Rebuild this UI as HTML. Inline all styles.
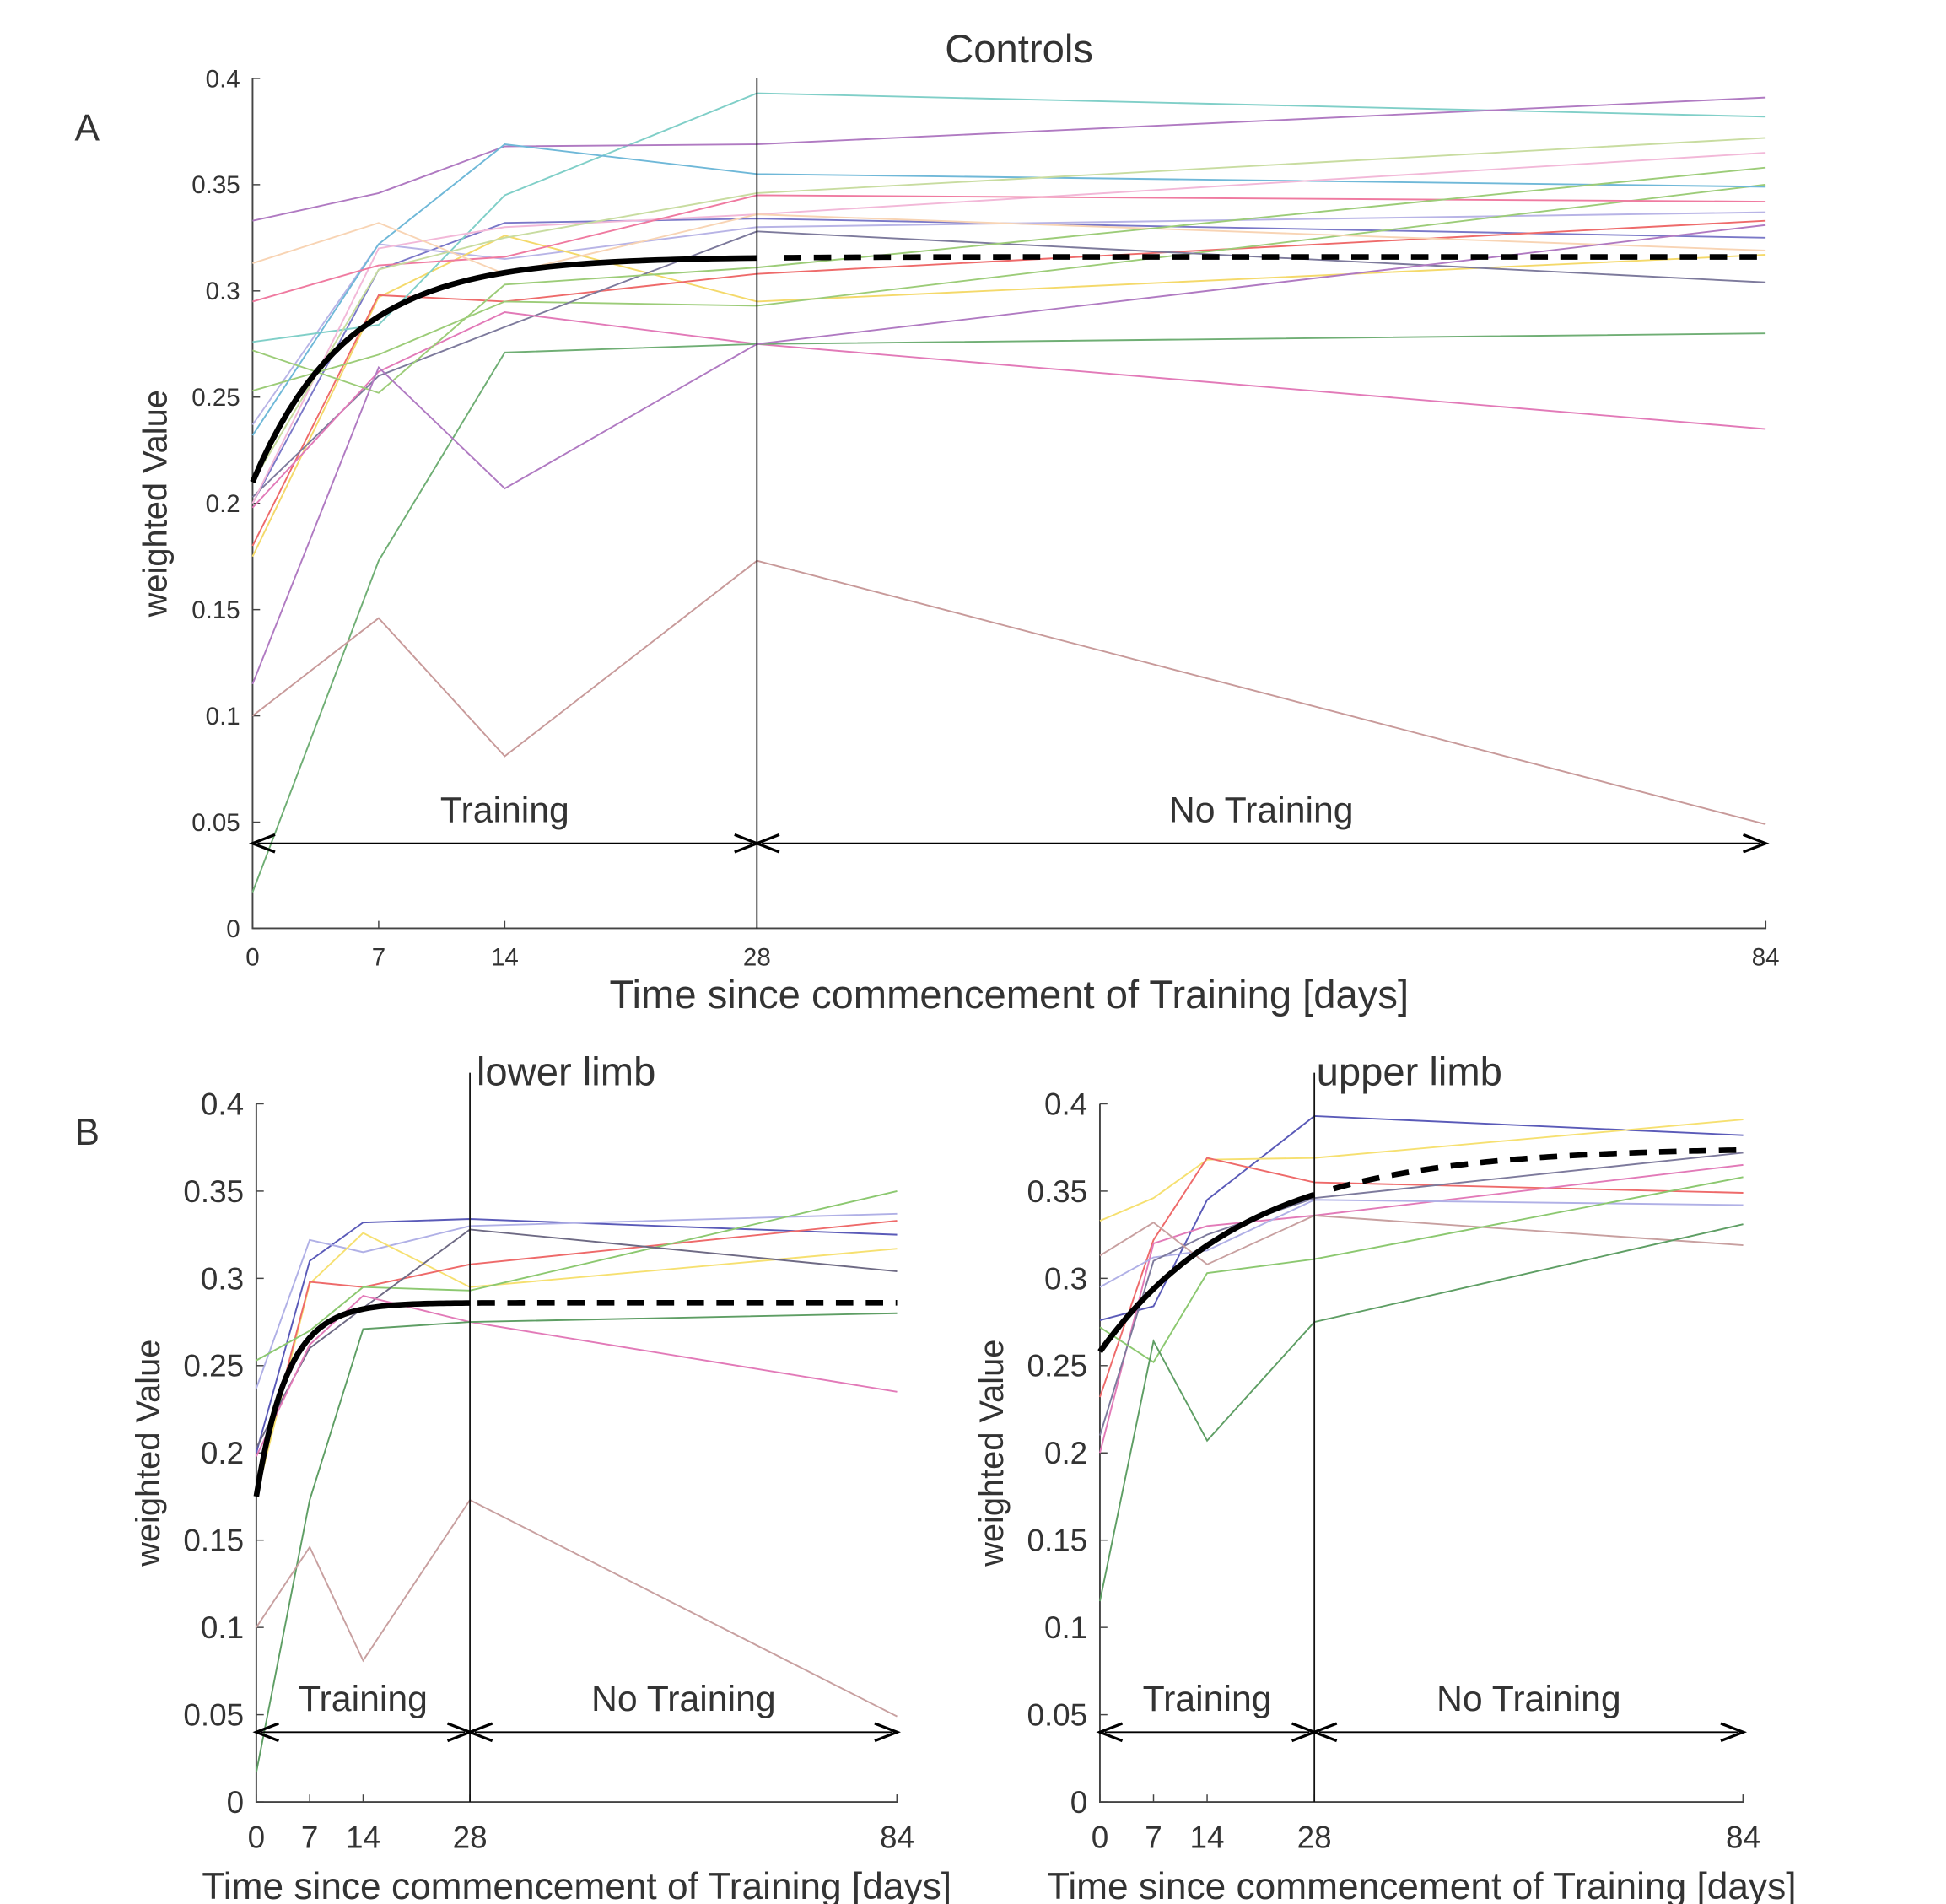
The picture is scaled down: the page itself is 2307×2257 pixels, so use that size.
<!DOCTYPE html>
<html><head><meta charset="utf-8"><style>
html,body{margin:0;padding:0;background:#fff}
svg{display:block}
text{font-family:"Liberation Sans",sans-serif;fill:#333}
</style></head><body>
<svg id="chart" width="2307" height="2257" viewBox="0 0 1564 1530" preserveAspectRatio="none" xmlns="http://www.w3.org/2000/svg"></svg>
<script>
const days=[0,7,14,28,84];
const yTicks=[0,0.05,0.1,0.15,0.2,0.25,0.3,0.35,0.4];
const yTickLabels=["0","0.05","0.1","0.15","0.2","0.25","0.3","0.35","0.4"];
const xTickLabels=["0","7","14","28","84"];
// lower limb subjects
const lowerSeries=[
[0.200,0.310,0.332,0.334,0.325],
[0.237,0.322,0.315,0.330,0.337],
[0.175,0.297,0.326,0.295,0.317],
[0.180,0.298,0.295,0.308,0.333],
[0.253,0.270,0.295,0.293,0.350],
[0.203,0.260,0.283,0.328,0.304],
[0.198,0.262,0.290,0.275,0.235],
[0.017,0.173,0.271,0.275,0.280],
[0.100,0.146,0.081,0.173,0.049]];
// upper limb subjects
const upperSeries=[
[0.276,0.284,0.345,0.393,0.382],
[0.333,0.346,0.368,0.369,0.391],
[0.232,0.322,0.369,0.355,0.349],
[0.200,0.320,0.330,0.336,0.365],
[0.295,0.312,0.316,0.345,0.342],
[0.210,0.310,0.325,0.346,0.372],
[0.313,0.332,0.308,0.336,0.319],
[0.272,0.252,0.303,0.311,0.358],
[0.115,0.264,0.207,0.275,0.331]];
// fitted curves: [start, asymptote, rate]
const fitA=[0.210,0.316,0.19];
const fitLower=[0.175,0.286,0.245];
const fitUpper=[0.258,0.375,0.0524];

const lowerColorsA=["#7a78c8","#b8b4e6","#f4d96a","#ee6a6a","#9ccc78","#7d7a9c","#e27ab8","#6fae74","#c89a9a"];
const upperColorsA=["#80cfc8","#b07ac2","#6fb8d8","#f2b8d8","#ef7aa0","#c8dca0","#f8d4b4","#9ccc78","#b07ac2"];
const lowerColorsB=["#5a5ab8","#b0b0e6","#f6e070","#ee6a6a","#8cc870","#6e6a84","#e27ab8","#5e9e64","#c8a0a0"];
const upperColorsB=["#5a5ab8","#f6e070","#ee6a6a","#e27ab8","#b0b0e6","#7d7a9c","#c8a0a0","#8cc870","#5e9e64"];

const svg=document.getElementById('chart');
const NS="http://www.w3.org/2000/svg";
function mk(tag,attrs,parent){const e=document.createElementNS(NS,tag);for(const k in attrs)e.setAttribute(k,attrs[k]);(parent||svg).appendChild(e);return e;}
function txt(x,y,s,size,anchor,parent){const t=mk('text',{x:x,y:y,'font-size':size,'text-anchor':anchor||'middle'},parent);t.textContent=s;return t;}

function panel(name,P,series,colors,fit,title,tickSize,labSize,dashStart){
  const g=mk('g',{});
  
  
  const xs=d=>P.x0+d/84*(P.x1-P.x0);
  const ys=v=>P.y0-v/0.4*(P.y0-P.y1);
  const ax=mk('path',{d:`M${P.x0},${P.y1}V${P.y0}H${P.x1}V${P.y0-6}`,stroke:'#444','stroke-width':1.3,fill:'none'},g);
  
  
  yTicks.forEach((v,i)=>{
    mk('line',{x1:P.x0,x2:P.x0+6,y1:ys(v),y2:ys(v),stroke:'#444','stroke-width':1},g);
    const t=txt(P.x0-10,ys(v)+tickSize*0.35,yTickLabels[i],tickSize,'end',g);
    
    
  });
  days.forEach((d,i)=>{
    mk('line',{x1:xs(d),x2:xs(d),y1:P.y0,y2:P.y0-6,stroke:'#444','stroke-width':1},g);
    const t=txt(xs(d),P.y0+P.tickOff,xTickLabels[i],tickSize,'middle',g);
    
    
  });
  series.forEach((s,i)=>{
    const p=mk('polyline',{points:s.map((v,j)=>xs(days[j])+','+ys(v)).join(' '),fill:'none',stroke:colors[i],'stroke-width':1.3},g);
    
    
  });
  const vl=mk('line',{x1:xs(28),x2:xs(28),y1:P.y0,y2:P.vTop,stroke:'#111','stroke-width':1.2},g);
  
  
  const f=t=>fit[1]-(fit[1]-fit[0])*Math.exp(-fit[2]*t);
  let a=[],b=[];
  for(let t=0;t<=28;t+=0.5)a.push(xs(t)+','+ys(f(t)));
  for(let t=dashStart;t<=84;t+=0.5)b.push(xs(t)+','+ys(f(t)));
  const fs=mk('polyline',{points:a.join(' '),fill:'none',stroke:'#000','stroke-width':4.5},g);
  
  
  const fd=mk('polyline',{points:b.join(' '),fill:'none',stroke:'#000','stroke-width':4.5,'stroke-dasharray':'14,10'},g);
  
  
  const ay=ys(0.04);
  function arrow(xa,xb,nm){
    const l=mk('line',{x1:xa+4,x2:xb-4,y1:ay,y2:ay,stroke:'#000','stroke-width':1.3},g);
    
    
    mk('path',{d:`M${xa+18},${ay-7}L${xa},${ay}L${xa+18},${ay+7}`,fill:'none',stroke:'#000','stroke-width':2.2},g);
    mk('path',{d:`M${xb-18},${ay-7}L${xb},${ay}L${xb-18},${ay+7}`,fill:'none',stroke:'#000','stroke-width':2.2},g);
  }
  arrow(xs(0),xs(28),'training-arrow');
  arrow(xs(28),xs(84),'no-training-arrow');
  let t1=txt((xs(0)+xs(28))/2,ay-17,'Training',labSize,'middle',g);
  
  
  let t2=txt((xs(28)+xs(84))/2,ay-17,'No Training',labSize,'middle',g);
  
  
  let tt=txt(title[1],title[2],title[0],32,title[3],g);
  
  
  let xl=txt((P.x0+P.x1)/2,P.y0+P.xlabOff,'Time since commencement of Training [days]',P.xlabSize,'middle',g);
  
  
  const yl=txt(0,0,'weighted Value',27,'middle',g);
  yl.setAttribute('transform',`translate(${P.ylabX},${(P.y0+P.y1)/2}) rotate(-90)`);
  
  
}
panel('panel-a-controls',{x0:203,x1:1419,y0:746,y1:63,vTop:63,tickOff:30,xlabOff:64,xlabSize:32,ylabX:134},lowerSeries.concat(upperSeries),lowerColorsA.concat(upperColorsA),fitA,['Controls',819,50,'middle'],20,29,29.5);
panel('panel-b-lower-limb',{x0:206,x1:721,y0:1448,y1:887,vTop:862,tickOff:37,xlabOff:78,xlabSize:30,ylabX:128},lowerSeries,lowerColorsB,fitLower,['lower limb',383,872,'start'],25,29,29);
panel('panel-b-upper-limb',{x0:884,x1:1401,y0:1448,y1:887,vTop:862,tickOff:37,xlabOff:78,xlabSize:30,ylabX:806},upperSeries,upperColorsB,fitUpper,['upper limb',1058,872,'start'],25,29,30.5);
let la=txt(70,113,'A',30,'middle');


let lb=txt(70,920,'B',30,'middle');


</script>
</body></html>
